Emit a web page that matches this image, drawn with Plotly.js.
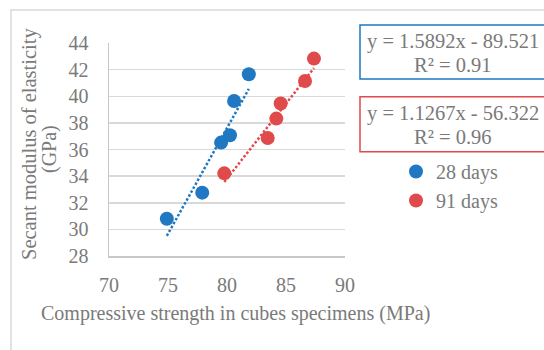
<!DOCTYPE html>
<html><head><meta charset="utf-8">
<script src="https://cdn.plot.ly/plotly-3.0.1.min.js"></script>
<style>html,body{margin:0;padding:0;background:#fff}#chart{width:544px;height:350px}</style>
</head><body><div id="chart"></div>
<script>
// Data
const x28 = [74.9, 77.9, 79.5, 80.25, 80.6, 81.85];
const y28 = [30.8, 32.76, 36.52, 37.07, 39.64, 41.65];
const x91 = [79.77, 83.45, 84.18, 84.55, 86.61, 87.37];
const y91 = [34.21, 36.86, 38.32, 39.45, 41.15, 42.83];
const names = ['28 days', '91 days'];
const slopes = [1.5892, 1.1267];
const intercepts = [-89.521, -56.322];
const r2 = [0.91, 0.96];
const xTicks = [70, 75, 80, 85, 90];
const yTicks = [28, 30, 32, 34, 36, 38, 40, 42, 44];
const yTitleLines = ['Secant modulus of elasticity', '(GPa)'];
const xTitle = 'Compressive strength in cubes specimens (MPa)';

const blue = '#1f78c1', red = '#e04a4a', txt = '#7a7a7a';
const FONT = "'Liberation Serif', 'Times New Roman', serif";

function trend(xs, m, b) {
  const lo = Math.min(...xs), hi = Math.max(...xs);
  return {x: [lo, hi], y: [m * lo + b, m * hi + b]};
}
const t28 = trend(x28, slopes[0], intercepts[0]);
const t91 = trend(x91, slopes[1], intercepts[1]);

const traces = [
  {x: t28.x, y: t28.y, mode: 'lines', showlegend: false, hoverinfo: 'skip',
   line: {color: blue, width: 2.5, dash: '2.5px,2px'}},
  {x: t91.x, y: t91.y, mode: 'lines', showlegend: false, hoverinfo: 'skip',
   line: {color: red, width: 2.5, dash: '2.5px,2px'}},
  {x: x28, y: y28, name: names[0], mode: 'markers', type: 'scatter',
   marker: {color: blue, size: 14}},
  {x: x91, y: y91, name: names[1], mode: 'markers', type: 'scatter',
   marker: {color: red, size: 14}}
];

function eqLine(m, b) { return 'y = ' + m.toFixed(4) + 'x - ' + Math.abs(b).toFixed(3); }
function r2Line(r) { return 'R² = ' + r.toFixed(2); }

// pixel -> paper helpers (plot area: x 109..345, y 43..256)
const px = v => (v - 109) / 236;
const py = v => (256 - v) / 213;

function ann(text, x, y, size, angle) {
  return {xref: 'paper', yref: 'paper', x: px(x), y: py(y), xanchor: 'center', yanchor: 'middle',
    text: text, showarrow: false, textangle: angle || 0, font: {size: size, color: txt, family: FONT}};
}

const layout = {
  width: 544, height: 350,
  margin: {l: 109, r: 199, t: 43, b: 94},
  paper_bgcolor: '#fff', plot_bgcolor: '#fff',
  font: {family: FONT, color: txt, size: 20},
  xaxis: {
    range: [70, 90], tickvals: xTicks, ticktext: xTicks.map(String),
    showgrid: false, zeroline: false, showline: true, linecolor: '#c8c8c8', linewidth: 1.5,
    ticks: 'outside', ticklen: 10, tickcolor: 'rgba(0,0,0,0)', tickfont: {size: 20, color: txt, family: FONT}
  },
  yaxis: {
    range: [28, 44], tickvals: yTicks, ticktext: yTicks.map(String),
    showgrid: true, gridcolor: '#d9d9d9', gridwidth: 1.5, zeroline: false,
    showline: true, linecolor: '#c8c8c8', linewidth: 1.5,
    ticks: 'outside', ticklen: 15, tickcolor: 'rgba(0,0,0,0)', tickfont: {size: 20, color: txt, family: FONT}
  },
  showlegend: true,
  legend: {x: px(396), xanchor: 'left', y: py(152), yanchor: 'top', bgcolor: 'rgba(0,0,0,0)',
    font: {size: 20, color: txt, family: FONT}, itemwidth: 30, tracegroupgap: 0},
  shapes: [
    {type: 'rect', xref: 'paper', yref: 'paper', x0: px(11), x1: px(700), y0: py(500), y1: py(10),
     line: {color: '#d9d9d9', width: 1.5}, fillcolor: 'rgba(0,0,0,0)', layer: 'below'},
    {type: 'rect', xref: 'paper', yref: 'paper', x0: px(360), x1: px(560), y0: py(79), y1: py(25),
     line: {color: blue, width: 1.5}},
    {type: 'rect', xref: 'paper', yref: 'paper', x0: px(360), x1: px(560), y0: py(151.7), y1: py(96.7),
     line: {color: red, width: 1.5}}
  ],
  annotations: [
    ann(eqLine(slopes[0], intercepts[0]), 453, 41, 20.5),
    ann(r2Line(r2[0]), 453, 64.5, 20.5),
    ann(eqLine(slopes[1], intercepts[1]), 453, 113, 20.5),
    ann(r2Line(r2[1]), 453, 136.5, 20.5),
    ann(yTitleLines[0], 29, 144, 20.5, -90),
    ann(yTitleLines[1], 49, 149, 20, -90),
    ann(xTitle, 235, 313, 20)
  ]
};

Plotly.newPlot('chart', traces, layout, {displayModeBar: false, staticPlot: true});
</script></body></html>
